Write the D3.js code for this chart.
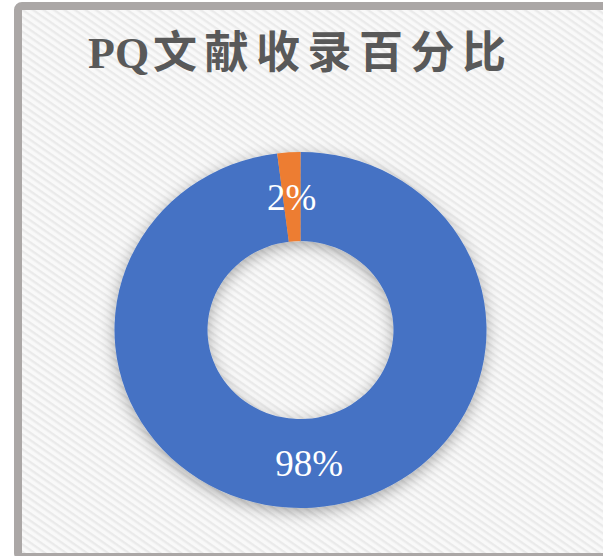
<!DOCTYPE html>
<html>
<head>
<meta charset="utf-8">
<script src="https://cdn.jsdelivr.net/npm/d3@7"></script>
<style>
  body { margin: 0; background: #fff; }
  svg { display: block; }
</style>
</head>
<body>
<div id="chart"></div>
<script>
// Data
const categories = ["收录", "未收录"];
const values = [98, 2];
const labels = ["98%", "2%"];
const colors = ["#4472C4", "#ED7D31"];
const titleLatin = "PQ";
const titleCjk = "文献收录百分比";

// Layout
const W = 603, H = 556;
const cx = 300.5, cy = 330;
const outerR = 186, innerR = 93;
const squash = 178 / 186; // the ring is a little flatter than wide

const svg = d3.select("#chart").append("svg")
  .attr("width", W)
  .attr("height", H);

const defs = svg.append("defs");

// diagonal hatching on the chart area
const pat = defs.append("pattern")
  .attr("id", "hatch")
  .attr("patternUnits", "userSpaceOnUse")
  .attr("width", 6)
  .attr("height", 6)
  .attr("patternTransform", "rotate(35)");
pat.append("rect").attr("width", 6).attr("height", 6).attr("fill", "#f9f9f9");
pat.append("rect").attr("width", 6).attr("height", 2.4).attr("fill", "#eaeaea");

const shadow = defs.append("filter")
  .attr("id", "shadow")
  .attr("x", "-20%").attr("y", "-20%")
  .attr("width", "140%").attr("height", "140%");
shadow.append("feDropShadow")
  .attr("dx", 0)
  .attr("dy", 4)
  .attr("stdDeviation", 8)
  .attr("flood-color", "#000")
  .attr("flood-opacity", 0.33);

// frame
svg.append("rect")
  .attr("x", 18)
  .attr("y", 6)
  .attr("width", W + 20)
  .attr("height", H - 5)
  .attr("rx", 4)
  .attr("fill", "url(#hatch)")
  .attr("stroke", "#aba7a6")
  .attr("stroke-width", 8);

// title
const title = svg.append("text")
  .attr("x", 88)
  .attr("y", 68)
  .attr("fill", "#595959")
  .attr("font-weight", "bold");
title.append("tspan")
  .attr("font-family", "'Liberation Serif', serif")
  .attr("font-size", 44)
  .text(titleLatin);
title.append("tspan")
  .attr("dx", 4)
  .attr("font-family", "'Noto Sans CJK SC', sans-serif")
  .attr("font-size", 44)
  .attr("letter-spacing", 7.5)
  .text(titleCjk);

// donut
const pie = d3.pie().sort(null).value(d => d);
const arc = d3.arc().innerRadius(innerR).outerRadius(outerR);
const arcs = pie(values);

const ring = svg.append("g")
  .attr("transform", `translate(${cx},${cy}) scale(1,${squash})`)
  .attr("filter", "url(#shadow)");

ring.selectAll("path")
  .data(arcs)
  .join("path")
  .attr("d", arc)
  .attr("fill", (d, i) => colors[i]);

svg.selectAll(".slice-label")
  .data(arcs)
  .join("text")
  .attr("class", "slice-label")
  .attr("x", d => cx + arc.centroid(d)[0])
  .attr("y", d => cy + arc.centroid(d)[1] * squash)
  .attr("dy", "0.35em")
  .attr("text-anchor", "middle")
  .attr("fill", "#fff")
  .attr("font-family", "'Liberation Serif', serif")
  .attr("font-size", 37)
  .text((d, i) => labels[i]);
</script>
</body>
</html>
